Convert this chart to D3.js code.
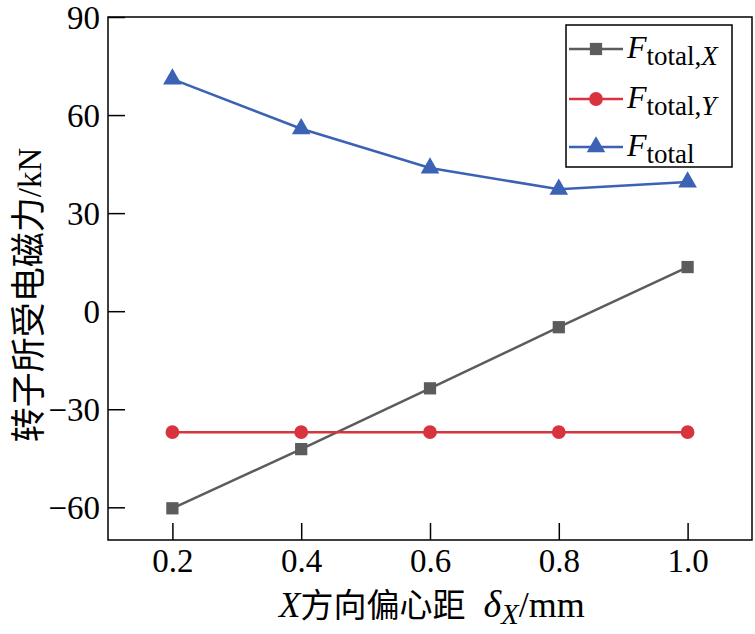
<!DOCTYPE html>
<html><head><meta charset="utf-8">
<script src="https://cdn.jsdelivr.net/npm/d3@7"></script>
<style>body{margin:0;background:#fff}</style>
</head><body>
<svg id="c" width="755" height="634"></svg>
<script>
const xValues = [0.2, 0.4, 0.6, 0.8, 1.0];
const fTotalX = [-60.3, -42.2, -23.6, -4.9, 13.5];
const fTotalY = [-37.0, -37.0, -37.0, -37.0, -37.0];
const fTotal = [71.0, 55.8, 43.8, 37.3, 39.5];
const xTicks = [0.2, 0.4, 0.6, 0.8, 1.0];
const yTicks = [-60, -30, 0, 30, 60, 90];

const svg = d3.select("#c");
const L = 108, R = 752, T = 17, B = 540;
const x = d3.scaleLinear().domain([0.1, 1.1]).range([L, R]);
const y = d3.scaleLinear().domain([-70, 90]).range([B, T]);
const serif = "'Liberation Serif','Times New Roman',serif";
const cjk = "'Noto Sans CJK SC'";

// frame
svg.append("rect").attr("x", L).attr("y", T).attr("width", R - L).attr("height", B - T)
  .attr("fill", "none").attr("stroke", "#000").attr("stroke-width", 1.5);

const xAxis = svg.append("g").attr("transform", `translate(0,${B})`)
  .call(d3.axisBottom(x).tickValues(xTicks).tickFormat(d3.format(".1f")).tickSizeInner(-17).tickSizeOuter(0).tickPadding(9));
const yAxis = svg.append("g").attr("transform", `translate(${L},0)`)
  .call(d3.axisLeft(y).tickValues(yTicks).tickFormat(d => d < 0 ? "\u2212" + Math.abs(d) : d).tickSizeInner(-17).tickSizeOuter(0).tickPadding(8));
[xAxis, yAxis].forEach(a => {
  a.select(".domain").remove();
  a.selectAll("line").attr("stroke", "#000").attr("stroke-width", 1.5);
  a.selectAll("text").attr("font-family", serif).attr("font-size", 33).attr("fill", "#000");
});
yAxis.selectAll("text").attr("dy", "0.34em");
xAxis.selectAll("text").attr("dy", "0.71em");

const series = [
  {vals: fTotalX, color: "#5c5c5c", shape: d3.symbolSquare, size: 150},
  {vals: fTotalY, color: "#d8343f", shape: d3.symbolCircle, size: 150},
  {vals: fTotal, color: "#3b62b4", shape: d3.symbolTriangle, size: 150}
];
const line = d3.line().x((d, i) => x(xValues[i])).y(d => y(d));
series.forEach(s => {
  svg.append("path").attr("d", line(s.vals)).attr("fill", "none").attr("stroke", s.color).attr("stroke-width", 2.5);
  svg.selectAll(null).data(s.vals).enter().append("path")
    .attr("d", d3.symbol().type(s.shape).size(s.size))
    .attr("transform", (d, i) => `translate(${x(xValues[i])},${y(d)})`)
    .attr("fill", s.color);
});

// legend
const lg = svg.append("g");
lg.append("rect").attr("x", 566).attr("y", 25).attr("width", 166).attr("height", 142)
  .attr("fill", "#fff").attr("stroke", "#000").attr("stroke-width", 1.5);
const legendNames = [["total,", "X"], ["total,", "Y"], ["total", ""]];
const rowsY = [49, 99, 147];
series.forEach((s, i) => {
  const yy = rowsY[i];
  lg.append("line").attr("x1", 569).attr("x2", 623).attr("y1", yy).attr("y2", yy).attr("stroke", s.color).attr("stroke-width", 2.5);
  lg.append("path").attr("d", d3.symbol().type(s.shape).size(s.size)).attr("transform", `translate(596,${yy})`).attr("fill", s.color);
  const t = lg.append("text").attr("x", 627).attr("y", yy + 9).attr("font-family", serif).attr("font-size", 32).attr("fill", "#000");
  t.append("tspan").attr("font-style", "italic").text("F");
  t.append("tspan").attr("font-size", 27).attr("dy", 7).text(legendNames[i][0]);
  if (legendNames[i][1]) t.append("tspan").attr("font-size", 27).attr("font-style", "italic").text(legendNames[i][1]);
});

// axis titles
const xt = svg.append("text").attr("x", 279).attr("y", 617).attr("text-anchor", "start")
  .attr("font-family", serif).attr("font-size", 35).attr("fill", "#000");
xt.append("tspan").attr("font-style", "italic").text("X");
xt.append("tspan").attr("font-family", cjk).attr("font-size", 33).text("方向偏心距");
xt.append("tspan").attr("dx", 18).attr("font-style", "italic").attr("font-size", 38).text("δ");
xt.append("tspan").attr("font-style", "italic").attr("font-size", 29).attr("dy", 7).text("X");
xt.append("tspan").attr("dy", -7).attr("font-size", 36).text("/mm");

const yt = svg.append("text").attr("transform", "translate(41,295) rotate(-90)").attr("text-anchor", "middle")
  .attr("font-size", 33).attr("fill", "#000");
yt.append("tspan").attr("font-family", cjk).attr("font-size", 35).text("转子所受电磁力");
yt.append("tspan").attr("font-family", serif).text("/kN");
</script>
</body></html>
